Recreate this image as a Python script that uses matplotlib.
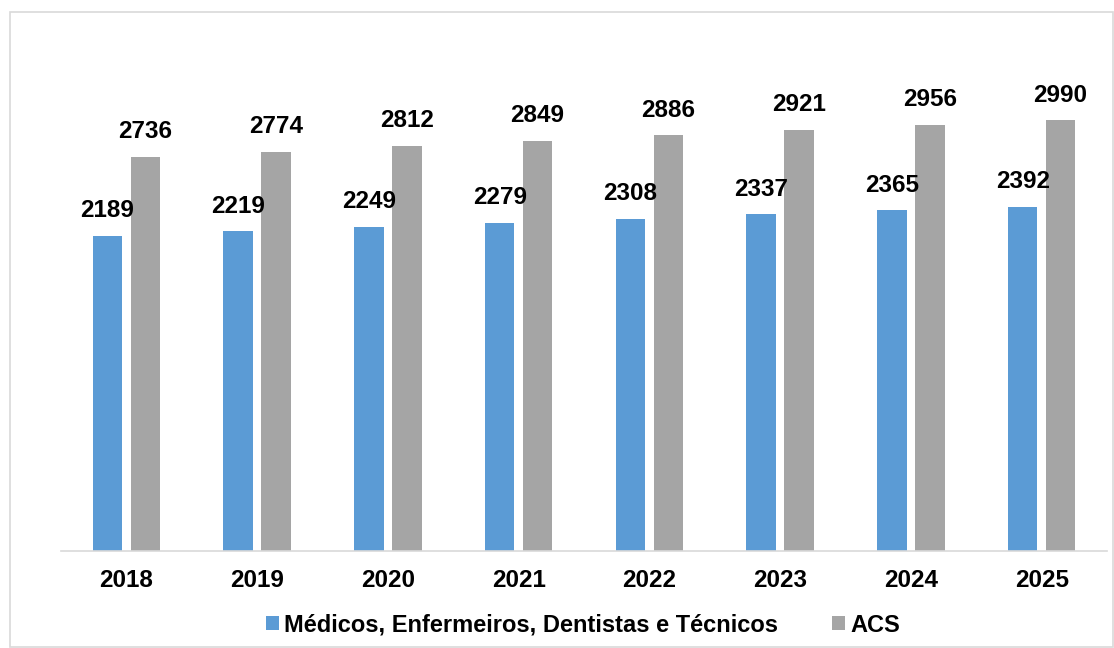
import matplotlib.pyplot as plt
from matplotlib.patches import Rectangle

plt.rcParams["font.family"] = ["Liberation Sans", "DejaVu Sans"]

YEARS = ["2018", "2019", "2020", "2021", "2022", "2023", "2024", "2025"]
MEDICOS = [2189, 2219, 2249, 2279, 2308, 2337, 2365, 2392]
ACS = [2736, 2774, 2812, 2849, 2886, 2921, 2956, 2990]
LABEL_MED = "Médicos, Enfermeiros, Dentistas e Técnicos"
LABEL_ACS = "ACS"

BLUE = "#5B9BD5"
GRAY = "#A5A5A5"

W, H = 1114, 648
fig = plt.figure(figsize=(W / 100, H / 100), dpi=100)
fig.patches.append(Rectangle((10 / W, 1 / H), (W - 11) / W, (H - 13) / H,
                             transform=fig.transFigure, fill=False,
                             edgecolor="#D9D9D9", linewidth=1.2))

ax = fig.add_axes([61 / W, (H - 551) / H, 1046 / W, (551 - 47) / H])
x = list(range(len(YEARS)))
bw = 0.225
off = 0.145
b1 = ax.bar([i - off for i in x], MEDICOS, bw, color=BLUE, label=LABEL_MED)
b2 = ax.bar([i + off for i in x], ACS, bw, color=GRAY, label=LABEL_ACS)
for bars in (b1, b2):
    ax.bar_label(bars, padding=10, fontsize=17.5, fontweight="bold")

ax.set_xlim(-0.5, len(YEARS) - 0.5)
ax.set_ylim(0, 3500)
ax.set_yticks([])
ax.set_xticks(x)
ax.set_xticklabels(YEARS, fontsize=17.5, fontweight="bold")
ax.tick_params(axis="x", length=0, pad=13)
for s in ("top", "right", "left"):
    ax.spines[s].set_visible(False)
ax.spines["bottom"].set_color("#D9D9D9")
ax.spines["bottom"].set_linewidth(1.2)

fig.legend(loc="center", bbox_to_anchor=(583 / W, 1 - 625 / H), ncol=2,
           frameon=False, prop={"size": 17, "weight": "bold"},
           handlelength=0.55, handleheight=0.55, handletextpad=0.22,
           columnspacing=2.3)

fig.savefig("out.png", dpi=100)
